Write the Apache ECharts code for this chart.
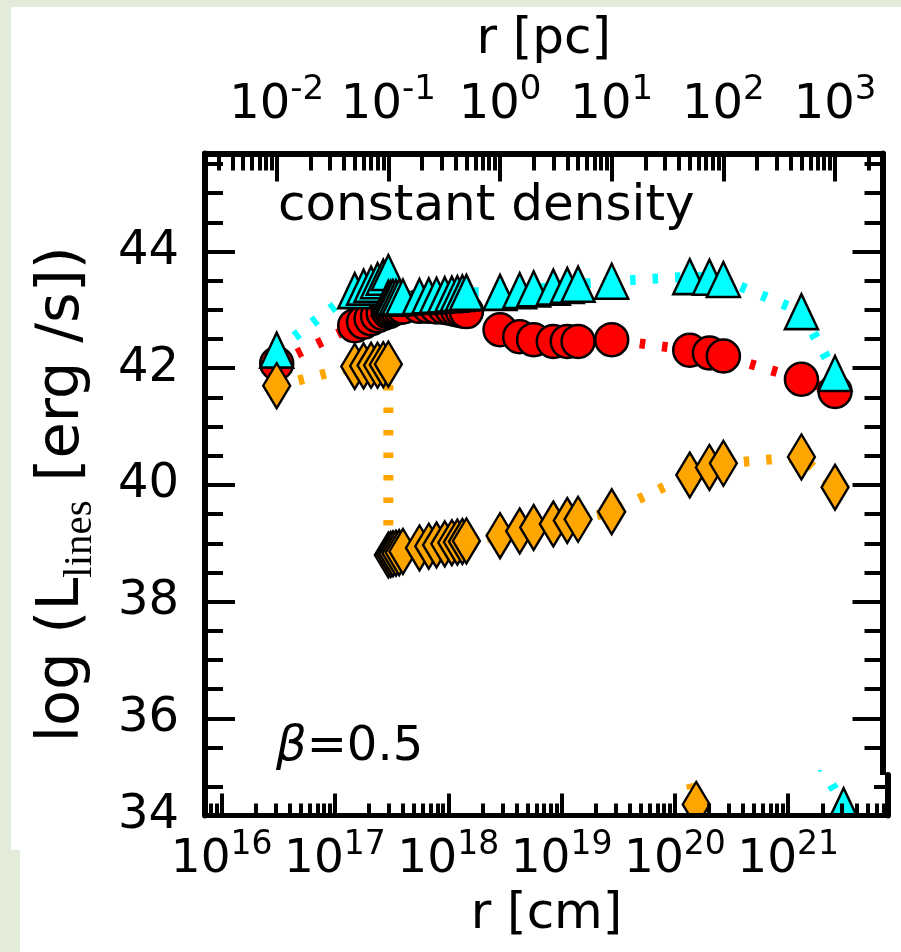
<!DOCTYPE html>
<html>
<head>
<meta charset="utf-8">
<script src="https://cdn.jsdelivr.net/npm/echarts@6.0.0/dist/echarts.min.js"></script>
<style>
html, body { margin: 0; padding: 0; background: #ffffff; }
#chart { width: 901px; height: 952px; }
</style>
</head>
<body>
<div id="chart"></div>
<script>
// ---------- data ----------
const PC_IN_CM_LOG = Math.log10(3.0857e18);

// radii of the model points, in parsec
const radiusPc = [0.01,
  0.05, 0.06, 0.07, 0.08, 0.09, 0.1,
  0.1, 0.105, 0.11, 0.117, 0.125, 0.135, 0.19, 0.23, 0.27, 0.32, 0.37, 0.415, 0.46, 0.5,
  1, 1.5, 2, 3, 4, 5, 10,
  50, 75, 100,
  500, 1000];

// log L_lines [erg/s] for the three lines
const lumRed = [42.08,
  42.73, 42.79, 42.85, 42.90, 42.94, 42.97,
  42.98, 43.00, 43.02, 43.03, 43.04, 43.05, 43.06, 43.06, 43.05, 43.04, 43.02, 43.00, 42.98, 42.97,
  42.66, 42.54, 42.49, 42.46, 42.46, 42.46, 42.49,
  42.31, 42.26, 42.21,
  41.81, 41.60];
const lumCyan = [42.31,
  43.33, 43.39, 43.44, 43.50, 43.56, 43.64,
  43.20, 43.20, 43.21, 43.21, 43.22, 43.22, 43.23, 43.24, 43.25, 43.26, 43.27, 43.28, 43.29, 43.30,
  43.30, 43.33, 43.36, 43.39, 43.42, 43.44, 43.49,
  43.57, 43.56, 43.52,
  42.97, 41.91];
const lumOrange = [41.70,
  42.03, 42.04, 42.05, 42.05, 42.06, 42.07,
  38.80, 38.81, 38.82, 38.83, 38.84, 38.86, 38.92, 38.95, 38.97, 38.99, 39.01, 39.02, 39.03, 39.04,
  39.13, 39.21, 39.27, 39.33, 39.39, 39.41, 39.54,
  40.17, 40.30, 40.37,
  40.48, 39.96];

// bottom strip (clipped panel underneath)
const stripOrangeRadiusPc = [10, 50];
const stripOrangeLum = [39.4, 34.19];
const stripCyanRadiusPc = [500, 1000];
const stripCyanLum = [35.2, 34.17];

// tick labels
const pcTickExponents = [-2, -1, 0, 1, 2, 3];
const cmTickExponents = [16, 17, 18, 19, 20, 21];
const yTickValues = [34, 36, 38, 40, 42, 44];
const stripYTickValues = [34];

// ---------- helpers ----------
const FONT = 'DejaVu Sans';
function logMinor(min, max) {
  const out = [];
  for (let d = Math.floor(min) - 1; d <= Math.ceil(max); d++) {
    for (let k = 2; k <= 9; k++) {
      const v = d + Math.log10(k);
      if (v >= min && v <= max) out.push(v);
    }
  }
  return out;
}
function linMinor(min, max, step, majors) {
  const out = [];
  for (let v = Math.ceil(min / step) * step; v <= max + 1e-9; v += step) {
    const r = Math.round(v * 100) / 100;
    if (majors.indexOf(r) < 0) out.push(r);
  }
  return out;
}
function supFormatter(v) { return '{b|10}{s|' + Math.round(v) + '}'; }
function supRich(b, s, pad) {
  return {
    b: { fontSize: b, fontFamily: FONT, color: '#000', verticalAlign: 'bottom' },
    s: { fontSize: s, fontFamily: FONT, color: '#000', verticalAlign: 'bottom', padding: [0, 0, pad, 0] }
  };
}
const toPcLog = r => Math.log10(r);
const toCmLog = r => Math.log10(r) + PC_IN_CM_LOG;

// ---------- axis ranges ----------
const mainX = { min: -2.642, max: 3.425 };
const mainY = { min: 34, max: 45.68 };
const stripX = { min: 15.853, max: 21.881 };
const stripY = { min: 34, max: 34.694 };

const spine = w => ({ show: true, onZero: false, lineStyle: { color: '#000', width: w } });
const hiddenLine = { show: false, onZero: false };
const ticks = (len, vals) => ({ show: true, inside: true, length: len, lineStyle: { color: '#000', width: 4 }, customValues: vals });
const noLabel = { show: false };
const noSplit = { show: false };

function mk(name, vals) {
  return vals.map((v, i) => [name(radiusPc[i]), v]);
}
function lineSeries(name, data, color, symbol, size, xi, yi, z) {
  return {
    name: name, type: 'line', xAxisIndex: xi, yAxisIndex: yi, z: z,
    data: data,
    symbol: symbol, symbolSize: size, showAllSymbol: true,
    itemStyle: { color: color, borderColor: '#000', borderWidth: 2.5 },
    lineStyle: { color: color, width: 10, type: [5.5, 17], cap: 'butt' },
    emphasis: { disabled: true },
    clip: true, animation: false
  };
}

const option = {
  backgroundColor: '#ffffff',
  animation: false,
  grid: [
    { left: 205, right: 18.5, top: 153.5, height: 681.5 },
    { left: 205, right: 13, top: 775, height: 40.5, z: 12 }
  ],
  title: [
    { text: 'constant density', left: 278, top: 182, padding: 0,
      textStyle: { fontSize: 50, fontWeight: 'normal', fontFamily: FONT, color: '#000' } },
    { text: '{i|β}=0.5', left: 276, top: 724, padding: 0,
      textStyle: { fontSize: 48, fontWeight: 'normal', fontFamily: FONT, color: '#000',
        rich: { i: { fontSize: 48, fontStyle: 'italic', fontFamily: FONT, color: '#000' } } } }
  ],
  xAxis: [
    { gridIndex: 0, type: 'value', position: 'top', min: mainX.min, max: mainX.max,
      axisLine: spine(6), axisTick: ticks(28, pcTickExponents), splitLine: noSplit,
      axisLabel: { customValues: pcTickExponents, formatter: supFormatter, rich: supRich(48, 34, 22), margin: 24 },
      name: 'r [pc]', nameLocation: 'middle', nameGap: 88,
      nameTextStyle: { fontSize: 50, fontFamily: FONT, color: '#000' } },
    { gridIndex: 0, type: 'value', position: 'top', min: mainX.min, max: mainX.max,
      axisLine: hiddenLine, axisTick: ticks(17, logMinor(mainX.min, mainX.max)),
      axisLabel: noLabel, splitLine: noSplit },
    { gridIndex: 1, type: 'value', position: 'bottom', min: stripX.min, max: stripX.max, z: 20,
      axisLine: spine(5), axisTick: ticks(22, cmTickExponents), splitLine: noSplit,
      axisLabel: { customValues: cmTickExponents, formatter: supFormatter, rich: supRich(47, 33, 22), margin: 13 },
      name: 'r [cm]', nameLocation: 'middle', nameGap: 75,
      nameTextStyle: { fontSize: 50, fontFamily: FONT, color: '#000' } },
    { gridIndex: 1, type: 'value', position: 'bottom', min: stripX.min, max: stripX.max, z: 20,
      axisLine: hiddenLine, axisTick: ticks(12, logMinor(stripX.min, stripX.max)),
      axisLabel: noLabel, splitLine: noSplit }
  ],
  yAxis: [
    { gridIndex: 0, type: 'value', position: 'left', min: mainY.min, max: mainY.max,
      axisLine: spine(6), axisTick: ticks(30, yTickValues), splitLine: noSplit,
      axisLabel: { customValues: yTickValues, fontSize: 48, fontFamily: FONT, color: '#000', margin: 26 },
      name: '{m|log (L}{sub|lines}{m| [erg /s])}', nameLocation: 'middle', nameGap: 104,
      nameTextStyle: { fontSize: 59, fontFamily: FONT, color: '#000',
        rich: { m: { fontSize: 59, fontFamily: FONT, color: '#000', verticalAlign: 'bottom', padding: [0, 0, 9, 0] },
                sub: { fontSize: 41, fontFamily: 'Liberation Serif', color: '#000', verticalAlign: 'bottom' } } } },
    { gridIndex: 0, type: 'value', position: 'left', min: mainY.min, max: mainY.max,
      axisLine: hiddenLine, axisTick: ticks(18, linMinor(mainY.min, mainY.max, 0.5, yTickValues)),
      axisLabel: noLabel, splitLine: noSplit },
    { gridIndex: 0, type: 'value', position: 'right', min: mainY.min, max: mainY.max,
      axisLine: spine(6), axisTick: ticks(30, yTickValues), axisLabel: noLabel, splitLine: noSplit },
    { gridIndex: 0, type: 'value', position: 'right', min: mainY.min, max: mainY.max,
      axisLine: hiddenLine, axisTick: ticks(18, linMinor(mainY.min, mainY.max, 0.5, yTickValues)),
      axisLabel: noLabel, splitLine: noSplit },
    { gridIndex: 1, type: 'value', position: 'left', min: stripY.min, max: stripY.max, z: 20,
      axisLine: spine(6), axisTick: ticks(30, stripYTickValues), splitLine: noSplit,
      axisLabel: { customValues: stripYTickValues, fontSize: 48, fontFamily: FONT, color: '#000', margin: 26 } },
    { gridIndex: 1, type: 'value', position: 'left', min: stripY.min, max: stripY.max, z: 20,
      axisLine: hiddenLine, axisTick: ticks(18, [34.5]), axisLabel: noLabel, splitLine: noSplit },
    { gridIndex: 1, type: 'value', position: 'right', min: stripY.min, max: stripY.max, z: 20,
      axisLine: spine(6), axisTick: ticks(30, stripYTickValues), axisLabel: noLabel, splitLine: noSplit },
    { gridIndex: 1, type: 'value', position: 'right', min: stripY.min, max: stripY.max, z: 20,
      axisLine: hiddenLine, axisTick: ticks(14, [34.5]), axisLabel: noLabel, splitLine: noSplit }
  ],
  series: [
    lineSeries('red', mk(toPcLog, lumRed), '#ff0000', 'circle', 33, 0, 0, 2),
    lineSeries('cyan', mk(toPcLog, lumCyan), '#00ffff', 'triangle', [33, 35], 0, 0, 3),
    lineSeries('orange', mk(toPcLog, lumOrange), '#ffa500', 'diamond', [27, 45], 0, 0, 4),
    lineSeries('orange strip', stripOrangeRadiusPc.map((r, i) => [toCmLog(r), stripOrangeLum[i]]),
      '#ffa500', 'diamond', [27, 45], 2, 4, 15),
    lineSeries('cyan strip', stripCyanRadiusPc.map((r, i) => [toCmLog(r), stripCyanLum[i]]),
      '#00ffff', 'triangle', [33, 35], 2, 4, 15)
  ],
  graphic: [
    { type: 'rect', z: 10, silent: true, shape: { x: 11, y: 775, width: 890, height: 177 }, style: { fill: '#ffffff' } },
    { type: 'rect', z: 16, silent: true, shape: { x: 11, y: 817, width: 890, height: 135 }, style: { fill: '#ffffff' } },
    { type: 'rect', z: 30, silent: true, shape: { x: 0, y: 0, width: 11, height: 952 }, style: { fill: '#e2ecd8' } },
    { type: 'rect', z: 30, silent: true, shape: { x: 0, y: 850, width: 20, height: 102 }, style: { fill: '#e2ecd8' } },
    { type: 'rect', z: 30, silent: true, shape: { x: 0, y: 0, width: 901, height: 7 }, style: { fill: '#e2ecd8' } }
  ]
};

const chart = echarts.init(document.getElementById('chart'), null, { renderer: 'canvas' });
chart.setOption(option);
</script>
</body>
</html>
